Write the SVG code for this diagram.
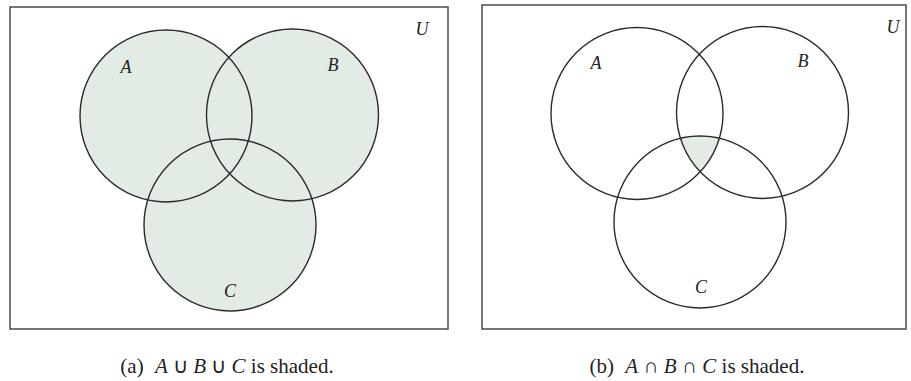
<svg xmlns="http://www.w3.org/2000/svg" width="911" height="381" viewBox="0 0 911 381">
  <style>
    .frame { fill: #ffffff; stroke: #555555; stroke-width: 1.6; }
    .ring { fill: none; stroke: #2a2a2a; stroke-width: 1.4; }
    .shade { fill: #e3ebe5; stroke: none; }
    .lbl { font-family: "Liberation Serif", "Times New Roman", serif; font-style: italic; font-size: 18px; fill: #222222; text-anchor: middle; }
    .cap { font-family: "Liberation Serif", "Times New Roman", serif; font-size: 21px; fill: #222222; text-anchor: middle; }
    .cap .it { font-style: italic; }
  </style>
  <defs>
    <clipPath id="clipB2"><circle cx="762.5" cy="112.5" r="86"/></clipPath>
    <clipPath id="clipC2"><circle cx="700" cy="222" r="86"/></clipPath>
  </defs>

  <!-- Panel (a) -->
  <g id="panel-a">
    <rect class="frame" x="10" y="7" width="438" height="322"/>
    <g id="a-shading">
      <circle class="shade" cx="166" cy="116" r="86"/>
      <circle class="shade" cx="292.5" cy="115" r="86"/>
      <circle class="shade" cx="230" cy="225" r="86"/>
    </g>
    <g id="a-setA"><circle class="ring" cx="166" cy="116" r="86"/><text class="lbl" x="126" y="73">A</text></g>
    <g id="a-setB"><circle class="ring" cx="292.5" cy="115" r="86"/><text class="lbl" x="333" y="71">B</text></g>
    <g id="a-setC"><circle class="ring" cx="230" cy="225" r="86"/><text class="lbl" x="230" y="297">C</text></g>
    <g id="a-U"><text class="lbl" x="422" y="35">U</text></g>
  </g>

  <!-- Panel (b) -->
  <g id="panel-b">
    <rect class="frame" x="482" y="5" width="424" height="324"/>
    <g id="b-shading" clip-path="url(#clipC2)">
      <circle class="shade" cx="637" cy="113.5" r="86" clip-path="url(#clipB2)"/>
    </g>
    <g id="b-setA"><circle class="ring" cx="637" cy="113.5" r="86"/><text class="lbl" x="596" y="69">A</text></g>
    <g id="b-setB"><circle class="ring" cx="762.5" cy="112.5" r="86"/><text class="lbl" x="803" y="67">B</text></g>
    <g id="b-setC"><circle class="ring" cx="700" cy="222" r="86"/><text class="lbl" x="701" y="293">C</text></g>
    <g id="b-U"><text class="lbl" x="893" y="33">U</text></g>
  </g>

  <g id="connectors"/>

  <!-- Captions -->
  <text id="caption-a" class="cap" x="227" y="373">(a) <tspan class="it" dx="6">A</tspan> ∪ <tspan class="it">B</tspan> ∪ <tspan class="it">C</tspan> is shaded.</text>
  <text id="caption-b" class="cap" x="697" y="373">(b) <tspan class="it" dx="6">A</tspan> ∩ <tspan class="it">B</tspan> ∩ <tspan class="it">C</tspan> is shaded.</text>
</svg>
